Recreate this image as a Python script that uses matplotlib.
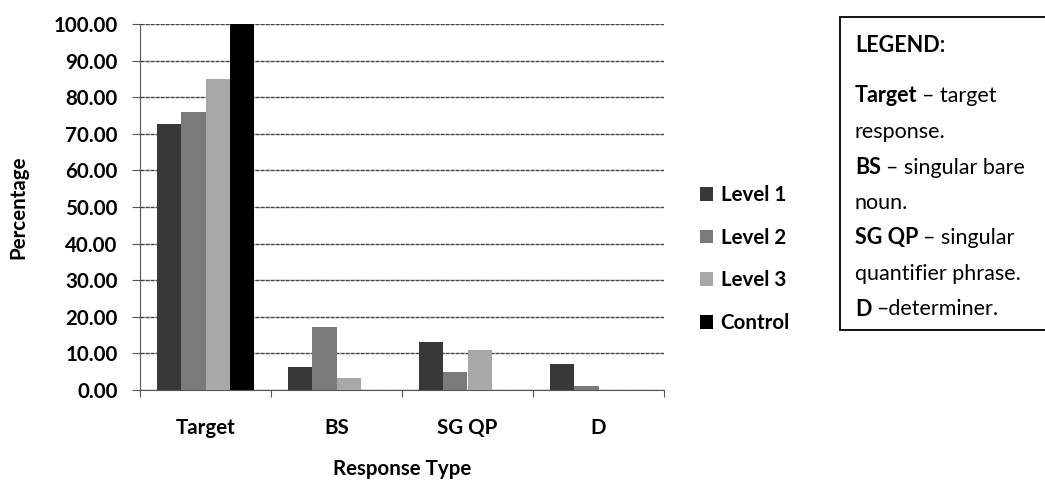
import matplotlib
matplotlib.use("Agg")
import matplotlib.pyplot as plt
from matplotlib.patches import Rectangle, Patch
import numpy as np

categories = ["Target", "BS", "SG QP", "D"]
series_names = ["Level 1", "Level 2", "Level 3", "Control"]
level1 = [72.6, 6.3, 13.1, 7.0]
level2 = [76.0, 17.2, 4.8, 1.0]
level3 = [85.0, 3.3, 11.0, 0.0]
control = [100.0, 0.0, 0.0, 0.0]
yticks = [0, 10, 20, 30, 40, 50, 60, 70, 80, 90, 100]

colors = ["#383838", "#7a7a7a", "#a8a8a8", "#000000"]
FONT = "Lato"
FS = 14.8
plt.rcParams['font.family'] = [FONT, 'DejaVu Sans']

W, H = 1045, 483
fig = plt.figure(figsize=(W / 100, H / 100), dpi=100)
ax = fig.add_axes([140 / W, 1 - 390 / H, (664 - 140) / W, (390 - 24) / H])

x = np.arange(len(categories))
bw = 0.184
all_series = [level1, level2, level3, control]
for i, (vals, name, c) in enumerate(zip(all_series, series_names, colors)):
    ax.bar(x + (i - 1.5) * bw, vals, width=bw, color=c, label=name, zorder=3)

ax.set_xlim(-0.5, len(categories) - 0.5)
ax.set_ylim(0, 100)
ax.set_yticks(yticks)
ax.set_yticklabels([f"{v:.2f}" for v in yticks], fontsize=FS, fontweight='bold')
ax.yaxis.grid(True, color='#444444', linewidth=1.0, linestyle=(0, (3, 0.6)), zorder=0)
ax.set_axisbelow(True)
ax.tick_params(axis='y', length=6, width=0.8, color='#555555', pad=10)

ax.set_xticks(x)
ax.set_xticklabels(categories, fontsize=FS, fontweight='bold')
ax.set_xticks(np.arange(-0.5, len(categories), 1.0), minor=True)
ax.tick_params(axis='x', which='major', length=0, pad=20)
ax.tick_params(axis='x', which='minor', length=5, width=0.8, color='#555555', direction='out')

for s in ['top', 'right']:
    ax.spines[s].set_visible(False)
ax.spines['left'].set_color('#555555')
ax.spines['bottom'].set_color('#555555')

ax.set_ylabel("Percentage", fontsize=FS, fontweight='bold', labelpad=18)
fig.text(402 / W, 1 - 469 / H, "Response Type", fontsize=FS, fontweight='bold',
         ha='center', va='center')

handles = [Patch(facecolor=c, edgecolor='none') for c in colors]
fig.legend(handles, series_names, loc='center left',
           bbox_to_anchor=(700 / W, 1 - 259 / H), frameon=False,
           prop={'family': FONT, 'weight': 'bold', 'size': FS},
           handlelength=0.65, handleheight=0.65, handletextpad=0.35,
           labelspacing=1.1, borderaxespad=0, borderpad=0)

# Right-hand text legend box
fig.patches.append(Rectangle((840 / W, 1 - 330 / H), (W + 20 - 840) / W, (330 - 17) / H,
                             transform=fig.transFigure, facecolor='white',
                             edgecolor='black', linewidth=1.3, clip_on=False))

lines = [
    ("LEGEND:", "", 45),
    ("Target", "\u2013 target", 96),
    ("", "response.", 132),
    ("BS", "\u2013 singular bare", 168),
    ("", "noun.", 203),
    ("SG QP", "\u2013 singular", 238),
    ("", "quantifier phrase.", 274),
    ("D", "\u2013determiner.", 309),
]
BFS = 15.5
fig.canvas.draw()
renderer = fig.canvas.get_renderer()
x0 = 855 / W
for bold, normal, yp in lines:
    xp = x0
    if bold:
        t = fig.text(xp, 1 - yp / H, bold, fontsize=BFS, fontweight='bold', va='center', ha='left')
        bb = t.get_window_extent(renderer=renderer)
        xp = (bb.x1 + 5) / W
    if normal:
        fig.text(xp, 1 - yp / H, normal, fontsize=BFS, va='center', ha='left')

fig.savefig("out.png", dpi=100)
